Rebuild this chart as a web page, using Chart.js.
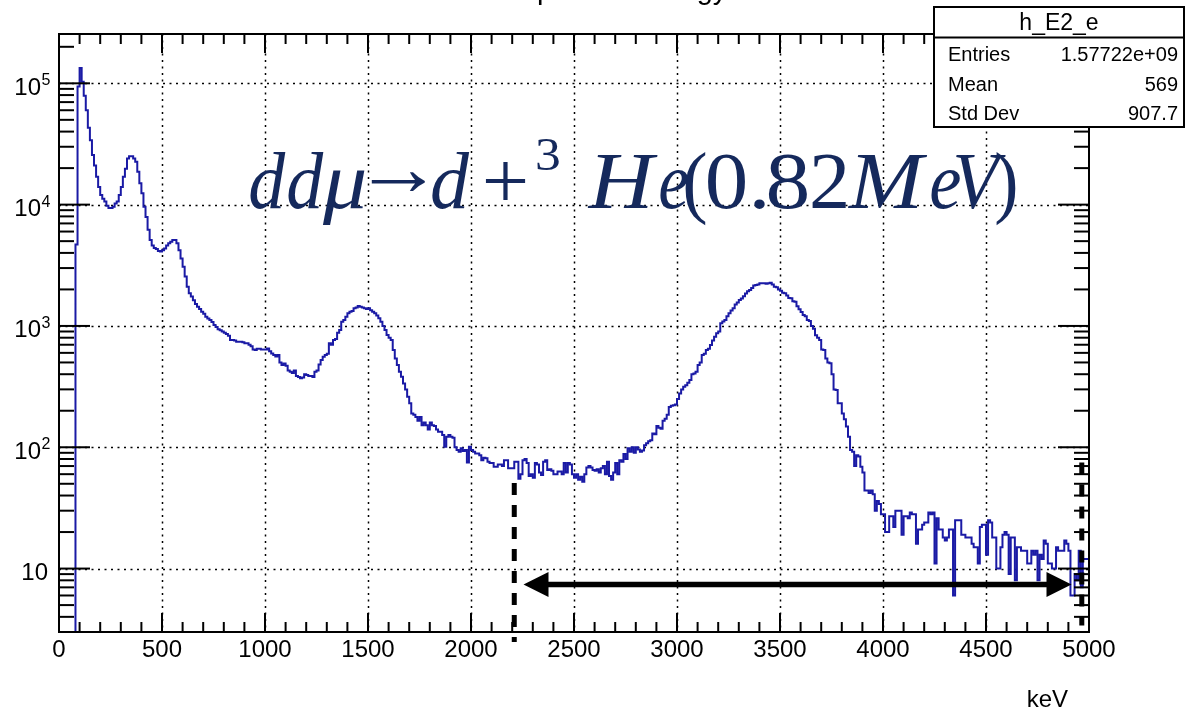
<!DOCTYPE html>
<html>
<head>
<meta charset="utf-8">
<script src="https://cdn.jsdelivr.net/npm/chart.js@4.4.0/dist/chart.umd.min.js"></script>
<style>
  html, body { margin: 0; padding: 0; background: #fff; }
  #wrap { width: 1186px; height: 711px; position: relative; }
</style>
</head>
<body>
<div id="wrap"><canvas id="myChart"></canvas></div>
<script>
// h_E2_e : energy spectrum, 10 keV bins from 0 to 5000 keV
const binWidth = 10;
const counts = [
  0, 0, 0, 0, 0, 0, 0, 0, 0, 4700,
  94000, 134000, 103000, 79000, 60000, 43000, 34000, 25700, 21000, 17000,
  14000, 12000, 11200, 10600, 9800, 9400, 9400, 9600, 10200, 10600,
  12000, 14000, 17000, 19800, 24000, 25000, 25000, 24000, 22600, 18700,
  15000, 12400, 9600, 7900, 6200, 5100, 4600, 4400, 4300, 4150,
  4100, 4200, 4350, 4600, 4800, 4950, 5100, 5100, 4800, 4200,
  3600, 3080, 2550, 2100, 1860, 1750, 1630, 1520, 1440, 1380,
  1310, 1260, 1190, 1150, 1120, 1080, 1020, 980, 940, 920,
  900, 880, 860, 830, 765, 765, 760, 740, 740, 740,
  735, 720, 720, 700, 680, 640, 633, 650, 650, 640,
  640, 640, 653, 620, 594, 575, 560, 575, 500, 476,
  490, 470, 430, 420, 410, 430, 386, 380, 370, 375,
  400, 395, 386, 386, 380, 420, 430, 480, 523, 557,
  575, 590, 720, 700, 765, 780, 880, 925, 1083, 1119,
  1190, 1270, 1310, 1330, 1396, 1420, 1459, 1440, 1420, 1396,
  1380, 1396, 1350, 1310, 1270, 1220, 1155, 1083, 1000, 925,
  841, 800, 765, 633, 540, 476, 420, 381, 336, 300,
  261, 230, 190, 185, 178, 165, 178, 152, 160, 152,
  140, 160, 152, 150, 140, 134, 134, 126, 101, 122,
  126, 122, 120, 100, 95, 92, 98, 93, 95, 75,
  101, 95, 92, 89, 89, 86, 78, 82, 81, 76,
  74, 74, 69, 69, 72, 72, 70, 78, 78, 67,
  67, 67, 76, 76, 55, 60, 78, 80, 74, 58,
  60, 56, 74, 72, 62, 59, 76, 78, 65, 66,
  64, 60, 60, 63, 63, 60, 74, 62, 74, 72,
  60, 56, 60, 54, 57, 52, 60, 68, 70, 68,
  65, 64, 66, 62, 67, 70, 60, 76, 58, 54,
  62, 74, 60, 78, 76, 88, 80, 98, 92, 100,
  90, 100, 96, 92, 94, 104, 108, 112, 114, 130,
  128, 150, 145, 142, 165, 172, 185, 215, 220, 222,
  225, 250, 278, 300, 316, 325, 340, 358, 400, 406,
  420, 476, 500, 575, 590, 633, 650, 697, 760, 815,
  869, 900, 1050, 1090, 1119, 1200, 1270, 1340, 1396, 1500,
  1560, 1636, 1680, 1760, 1850, 1930, 1977, 2050, 2150, 2175,
  2200, 2245, 2245, 2245, 2230, 2245, 2270, 2200, 2100, 2080,
  2000, 1950, 1880, 1858, 1780, 1700, 1690, 1600, 1580, 1450,
  1370, 1300, 1230, 1200, 1119, 1100, 1000, 950, 840, 800,
  765, 640, 633, 540, 500, 492, 400, 300, 297, 230,
  230, 190, 170, 148, 122, 95, 92, 70, 86, 84,
  69, 62, 44, 44, 42, 44, 41, 30, 36, 34,
  28, 28, 20, 20, 27, 27, 22, 30, 30, 30,
  19, 27, 27, 26, 29, 28, 28, 16, 21, 21,
  23, 24, 24, 29, 28, 29, 11, 26, 21, 21,
  18, 17, 18, 21, 21, 6, 25, 25, 25, 19,
  19, 18, 18, 18, 16, 15, 15, 11, 22, 23,
  23, 13, 25, 24, 18, 18, 10, 10, 15, 19,
  20, 19, 9, 18, 18, 8, 15, 15, 14, 14,
  14, 11, 11, 14, 13, 14, 8, 13, 12, 17,
  16, 11, 11, 10, 10, 15, 14, 14, 14, 17,
  16, 14, 6, 6, 9, 8, 14, 7, 12, 12
];

const xTicks = [0, 500, 1000, 1500, 2000, 2500, 3000, 3500, 4000, 4500, 5000];
const yDecades = [1, 2, 3, 4, 5];
const yMin = 3;
const yMax = 255000;
const xTitle = 'keV';
const histTitle = 'Deposited energy';
const statsName = 'h_E2_e';
const statsRows = [['Entries', '1.57722e+09'], ['Mean', '569'], ['Std Dev', '907.7']];

// selected window 2.2 - 4.96 MeV
const cutLow = 2210;
const cutHigh = 4965;
const arrowFrom = 2255;
const arrowTo = 4915;
const arrowLevel = 7.4;

// empty bins sit on the floor of the log axis, like ROOT draws them
const points = counts.map((c, i) => ({ x: i * binWidth, y: c > 0 ? c : yMin }));
points.push({ x: counts.length * binWidth, y: counts[counts.length - 1] });

const sans = '"Liberation Sans", Arial, Helvetica, sans-serif';

function line(ctx, x1, y1, x2, y2) {
  ctx.beginPath();
  ctx.moveTo(x1, y1);
  ctx.lineTo(x2, y2);
  ctx.stroke();
}

// draw a glyph centred in [left, right], widened a little when it is too narrow
function fitText(ctx, t, font, left, right, baseY, midY) {
  ctx.font = font;
  const m = ctx.measureText(t);
  const inkW = m.actualBoundingBoxLeft + m.actualBoundingBoxRight;
  const sx = Math.max(0.85, Math.min(1.12, (right - left) / inkW));
  const x0 = (left + right) / 2 - inkW * sx / 2;
  let by = baseY;
  if (midY !== undefined) {
    by = midY - (m.actualBoundingBoxDescent - m.actualBoundingBoxAscent) / 2;
  }
  ctx.save();
  ctx.translate(x0 + m.actualBoundingBoxLeft * sx, by);
  ctx.scale(sx, 1);
  ctx.fillText(t, 0, 0);
  ctx.restore();
}

const rootFrame = {
  id: 'rootFrame',
  beforeDatasetsDraw(chart) {
    const { ctx, chartArea: a, scales: { x, y } } = chart;
    ctx.save();
    ctx.strokeStyle = '#000';
    ctx.lineWidth = 1.5;
    ctx.setLineDash([2, 4.5]);
    xTicks.slice(1, -1).forEach(v => {
      const px = Math.round(x.getPixelForValue(v)) + 0.5;
      line(ctx, px, a.top, px, a.bottom);
    });
    yDecades.forEach(d => {
      const py = Math.round(y.getPixelForValue(Math.pow(10, d))) + 0.5;
      line(ctx, a.left, py, a.right, py);
    });
    ctx.restore();
  },
  afterDatasetsDraw(chart) {
    const { ctx, chartArea: a, scales: { x, y } } = chart;
    ctx.save();

    // reaction label
    const it = 'italic 80px "Liberation Serif", "Times New Roman", serif';
    const rm = '80px "Liberation Serif", "Times New Roman", serif';
    const base = 208;
    ctx.fillStyle = '#15295c';
    ctx.textBaseline = 'alphabetic';
    ctx.textAlign = 'left';
    [
      ['d', it, 250, 286], ['d', it, 288, 324], ['\u03bc', it, 322, 365],
      ['\u2192', rm, 367, 430, 182], ['d', it, 432, 470], ['+', rm, 485, 526, 181],
      ['H', it, 584, 662], ['e', it, 660, 688], ['(', rm, 685, 706],
      ['0', rm, 708, 745], ['.', rm, 754, 765], ['8', rm, 768, 808], ['2', rm, 812, 846],
      ['M', it, 848, 928], ['e', it, 931, 960], ['V', it, 956, 1006], [')', rm, 996, 1016]
    ].forEach(([t, f, l, r, mid]) => fitText(ctx, t, f, l, r, base, mid));
    fitText(ctx, '3', '46px "Liberation Serif", "Times New Roman", serif', 537, 560, 170);

    // frame
    ctx.strokeStyle = '#000';
    ctx.lineWidth = 2;
    ctx.strokeRect(a.left, a.top, a.right - a.left, a.bottom - a.top);

    // x ticks, bottom and top
    for (let v = 0; v <= 5000; v += 100) {
      const px = x.getPixelForValue(v);
      const len = v % 500 === 0 ? 19 : 10;
      line(ctx, px, a.bottom, px, a.bottom - len);
      line(ctx, px, a.top, px, a.top + len);
    }
    // y ticks, left and right
    for (let d = 0; d <= 5; d++) {
      for (let m = 1; m <= 9; m++) {
        const v = m * Math.pow(10, d);
        if (v < y.min || v > y.max) continue;
        const py = y.getPixelForValue(v);
        const len = m === 1 ? 31 : 15;
        line(ctx, a.left, py, a.left + len, py);
        line(ctx, a.right, py, a.right - len, py);
      }
    }

    // tick labels
    ctx.fillStyle = '#000';
    ctx.font = '24px ' + sans;
    ctx.textAlign = 'center';
    xTicks.forEach(v => ctx.fillText(String(v), x.getPixelForValue(v), 657));
    yDecades.forEach(d => {
      const py = y.getPixelForValue(Math.pow(10, d));
      ctx.font = '24px ' + sans;
      ctx.textAlign = 'right';
      if (d === 1) {
        ctx.fillText('10', 48, py + 11.5);
      } else {
        ctx.fillText('10', 41, py + 11.5);
        ctx.font = '16px ' + sans;
        ctx.textAlign = 'left';
        ctx.fillText(String(d), 41.5, py + 2);
      }
    });
    ctx.font = '24px ' + sans;
    ctx.textAlign = 'right';
    ctx.fillText(xTitle, 1068, 707);

    // window markers
    ctx.lineWidth = 5;
    ctx.setLineDash([12, 10]);
    const xl = x.getPixelForValue(cutLow);
    line(ctx, xl, y.getPixelForValue(50.7), xl, a.bottom + 10);
    const xh = x.getPixelForValue(cutHigh);
    line(ctx, xh, y.getPixelForValue(75), xh, y.getPixelForValue(3.4));
    ctx.setLineDash([]);

    const ay = y.getPixelForValue(arrowLevel);
    const x1 = x.getPixelForValue(arrowFrom);
    const x2 = x.getPixelForValue(arrowTo);
    ctx.lineWidth = 5.5;
    line(ctx, x1 + 10, ay, x2 - 10, ay);
    ctx.fillStyle = '#000';
    ctx.beginPath();
    ctx.moveTo(x1, ay);
    ctx.lineTo(x1 + 25, ay - 12.5);
    ctx.lineTo(x1 + 25, ay + 12.5);
    ctx.closePath();
    ctx.fill();
    ctx.beginPath();
    ctx.moveTo(x2, ay);
    ctx.lineTo(x2 - 25, ay - 12.5);
    ctx.lineTo(x2 - 25, ay + 12.5);
    ctx.closePath();
    ctx.fill();

    // stats box
    ctx.fillStyle = '#fff';
    ctx.fillRect(934, 7, 250, 120);
    ctx.lineWidth = 2;
    ctx.strokeStyle = '#000';
    ctx.strokeRect(934, 7, 250, 120);
    line(ctx, 934, 37.5, 1184, 37.5);
    ctx.fillStyle = '#000';
    ctx.font = '23px ' + sans;
    ctx.textAlign = 'center';
    ctx.fillText(statsName, 1059, 30);
    ctx.font = '20px ' + sans;
    statsRows.forEach(([k, v], i) => {
      const by = 61 + i * 29.7;
      ctx.textAlign = 'left';
      ctx.fillText(k, 948, by);
      ctx.textAlign = 'right';
      ctx.fillText(v, 1178, by);
    });

    // histogram title, mostly above the visible page
    ctx.font = '29px ' + sans;
    ctx.textAlign = 'left';
    ctx.fillText(histTitle, 500, -1);

    ctx.restore();
  }
};

const ctx = document.getElementById('myChart').getContext('2d');
new Chart(ctx, {
  type: 'line',
  data: {
    datasets: [{
      label: statsName,
      data: points,
      stepped: 'after',
      borderColor: 'rgb(26, 26, 165)',
      borderWidth: 2,
      pointRadius: 0,
      fill: false
    }]
  },
  options: {
    responsive: true,
    maintainAspectRatio: false,
    animation: false,
    layout: { padding: { left: 59, right: 97, top: 34, bottom: 79 } },
    plugins: { legend: { display: false }, tooltip: { enabled: false } },
    scales: {
      x: { type: 'linear', min: 0, max: 5000, display: false },
      y: { type: 'logarithmic', min: yMin, max: yMax, display: false }
    }
  },
  plugins: [rootFrame]
});
</script>
</body>
</html>
